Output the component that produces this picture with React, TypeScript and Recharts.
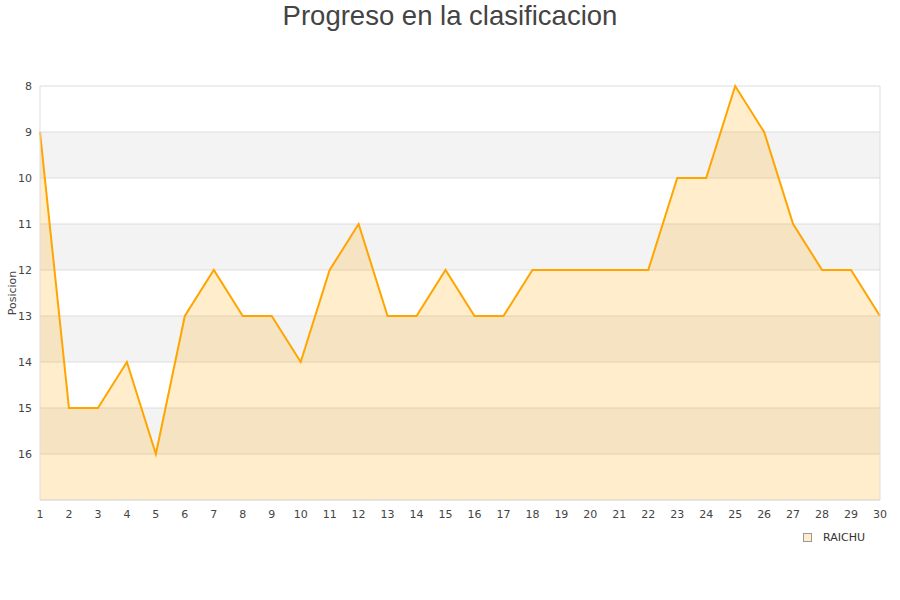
import React from 'react';
import { AreaChart, Area, XAxis, YAxis, CartesianGrid, ReferenceLine } from 'recharts';

// jornada -> posicion
const jornadas = [1, 2, 3, 4, 5, 6, 7, 8, 9, 10, 11, 12, 13, 14, 15, 16, 17, 18, 19, 20, 21, 22, 23, 24, 25, 26, 27, 28, 29, 30];
const posiciones = [9, 15, 15, 14, 16, 13, 12, 13, 13, 14, 12, 11, 13, 13, 12, 13, 13, 12, 12, 12, 12, 12, 10, 10, 8, 9, 11, 12, 12, 13];
const yTicks = [8, 9, 10, 11, 12, 13, 14, 15, 16, 17];
const equipo = 'RAICHU';

const data = jornadas.map((j, i) => ({ jornada: j, pos: posiciones[i] }));

const tickStyle = { fill: '#444', fontSize: 11, fontFamily: 'DejaVu Sans, sans-serif' };

const YTick = (props: any) => {
  const { x, y, payload } = props;
  if (payload.value === 17) return null;
  return (
    <text x={x} y={y} dy={4} textAnchor="end" {...tickStyle}>
      {payload.value}
    </text>
  );
};

export default function App() {
  return (
    <div style={{ position: 'absolute', left: 0, top: 0, width: 900, height: 600, background: '#fff' }}>
      <div
        style={{
          position: 'absolute',
          top: 0,
          width: 900,
          textAlign: 'center',
          fontFamily: 'Liberation Sans, Arial, sans-serif',
          fontSize: 27.5,
          color: '#444',
          lineHeight: '32px',
        }}
      >
        Progreso en la clasificacion
      </div>
      <div
        style={{
          position: 'absolute',
          left: 6,
          top: 293,
          transform: 'translate(-50%, -50%) rotate(-90deg)',
          transformOrigin: 'center',
          marginLeft: 6,
          fontFamily: 'DejaVu Sans, sans-serif',
          fontSize: 11,
          color: '#444',
          whiteSpace: 'nowrap',
        }}
      >
        Posicion
      </div>
      <AreaChart
        width={900}
        height={600}
        data={data}
        margin={{ top: 86, right: 20, left: 0, bottom: 70 }}
      >
        <CartesianGrid vertical={false} stroke="#dddddd" horizontalFill={['#ffffff', '#f3f3f3']} />
        <XAxis
          dataKey="jornada"
          type="number"
          domain={[1, 30]}
          ticks={jornadas}
          interval={0}
          tickLine={false}
          axisLine={{ stroke: '#dddddd' }}
          tick={tickStyle}
          tickMargin={4}
          height={30}
        />
        <YAxis
          reversed
          type="number"
          domain={[8, 17]}
          ticks={yTicks}
          interval={0}
          tickLine={false}
          axisLine={{ stroke: '#dddddd' }}
          tick={<YTick />}
          width={40}
        />
        <ReferenceLine x={30} stroke="#dddddd" />
        <Area
          type="linear"
          dataKey="pos"
          baseValue={17}
          stroke="#ffa500"
          strokeWidth={2}
          fill="#ffa500"
          fillOpacity={0.2}
          dot={false}
          activeDot={false}
          isAnimationActive={false}
        />
      </AreaChart>
      <div
        style={{
          position: 'absolute',
          left: 803,
          top: 531,
          display: 'flex',
          alignItems: 'center',
          fontFamily: 'DejaVu Sans, sans-serif',
          fontSize: 11,
          color: '#333',
        }}
      >
        <span
          style={{
            display: 'inline-block',
            width: 7,
            height: 7,
            border: '1px solid #999',
            background: '#ffedcc',
            marginRight: 11,
          }}
        />
        {equipo}
      </div>
    </div>
  );
}
